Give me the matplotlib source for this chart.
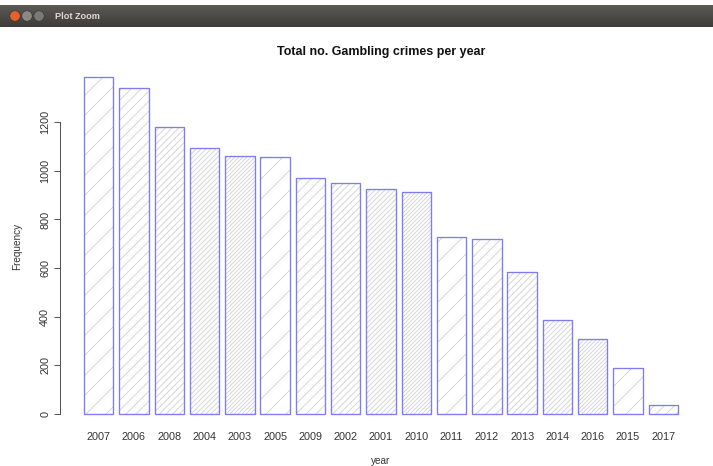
"""
plot.py

Bar chart of total gambling crimes per year, drawn like an R barplot
shown inside an Ubuntu "Plot Zoom" window.
"""

import matplotlib
matplotlib.use("Agg")
import matplotlib.pyplot as plt
from matplotlib.patches import Circle
import numpy as np

# ── Data ───────────────────────────────────────────────────────────────────────

YEARS = ["2007", "2006", "2008", "2004", "2003", "2005", "2009", "2002", "2001",
         "2010", "2011", "2012", "2013", "2014", "2016", "2015", "2017"]
CRIMES = [1384, 1340, 1181, 1095, 1061, 1057, 969, 950, 927,
          912, 729, 719, 585, 388, 308, 189, 36]
Y_TICKS = [0, 200, 400, 600, 800, 1000, 1200]

TITLE = "Total no. Gambling crimes per year"
X_LABEL = "year"
Y_LABEL = "Frequency"
WINDOW_TITLE = "Plot Zoom"

# ── Canvas (pixel based) ───────────────────────────────────────────────────────

W, H = 713, 466
DPI = 60  # hatch cell = 1 inch = 60 px, gives R-like density steps

BAR_EDGE = "#7d7df0"
HATCH_GREY = "#d3d3d3"
HATCHES = ["/", "//", "///", "////", "/////"]

plt.rcParams["font.family"] = ["Liberation Sans", "DejaVu Sans"]
plt.rcParams["hatch.linewidth"] = 1.1


def px(x, y):
    """pixel (from top-left) -> figure fraction"""
    return x / W, 1 - y / H


def draw_window_bar(fig):
    bar = fig.add_axes([0, 1 - 27 / H, 1, 22 / H])
    grad = np.linspace(0, 1, 50).reshape(-1, 1)
    bar.imshow(grad, aspect="auto", cmap=matplotlib.colors.LinearSegmentedColormap.from_list(
        "ubuntu", ["#5b5a55", "#3d3c38"]), extent=[0, W, 22, 0])
    bar.set_xlim(0, W)
    bar.set_ylim(22, 0)
    bar.axis("off")
    for cx, col in [(15, "#e8602c"), (27, "#8a8985"), (39, "#7a7975")]:
        bar.add_patch(Circle((cx, 11), 5.2, color=col, ec="#2e2d2a", lw=0.6))
    bar.text(55, 11.5, WINDOW_TITLE, color="#dfdbd2", fontsize=11,
             fontweight="bold", va="center", ha="left")


def main():
    fig = plt.figure(figsize=(W / DPI, H / DPI), dpi=DPI, facecolor="white")
    draw_window_bar(fig)

    # plot region as R lays it out: x in [-0.608, 21.208], y padded 4 %
    left, right, top, bottom = 60.2, 701.8, 64.0, 427.4
    ax = fig.add_axes([left / W, 1 - bottom / H, (right - left) / W, (bottom - top) / H])

    centers = 0.7 + 1.2 * np.arange(len(YEARS))
    hatches = [HATCHES[i % len(HATCHES)] for i in range(len(YEARS))]

    # hatch fill (grey) then blue outline on top
    fills = ax.bar(centers, CRIMES, width=1.0, color="none", edgecolor=HATCH_GREY,
                   linewidth=0)
    for b, h in zip(fills, hatches):
        b.set_hatch(h)
    ax.bar(centers, CRIMES, width=1.0, color="none", edgecolor=BAR_EDGE, linewidth=1.6)

    ymax = max(CRIMES)
    ax.set_xlim(-0.608, 21.208)
    ax.set_ylim(-0.04 * ymax, 1.04 * ymax)

    for s in ["top", "right", "bottom"]:
        ax.spines[s].set_visible(False)
    ax.spines["left"].set_bounds(Y_TICKS[0], Y_TICKS[-1])
    ax.spines["left"].set_color("#444444")
    ax.spines["left"].set_linewidth(1.1)

    ax.set_yticks(Y_TICKS)
    ax.set_yticklabels([str(t) for t in Y_TICKS], rotation=90, va="center",
                       fontsize=13, color="#333333")
    ax.tick_params(axis="y", length=7, width=1.1, color="#444444", pad=5)

    ax.set_xticks(centers)
    ax.set_xticklabels(YEARS, fontsize=13, color="#333333")
    ax.tick_params(axis="x", length=0, pad=6)

    ax.patch.set_visible(False)

    fig.text(*px(381, 52), TITLE, ha="center", va="center", fontsize=15,
             fontweight="bold", color="#111111")
    fig.text(*px(381, 461), X_LABEL, ha="center", va="center", fontsize=12,
             color="#333333")
    fig.text(*px(17, 246), Y_LABEL, ha="center", va="center", fontsize=12,
             rotation=90, color="#333333")

    fig.savefig("out.png", dpi=DPI, facecolor="white")


if __name__ == "__main__":
    main()
